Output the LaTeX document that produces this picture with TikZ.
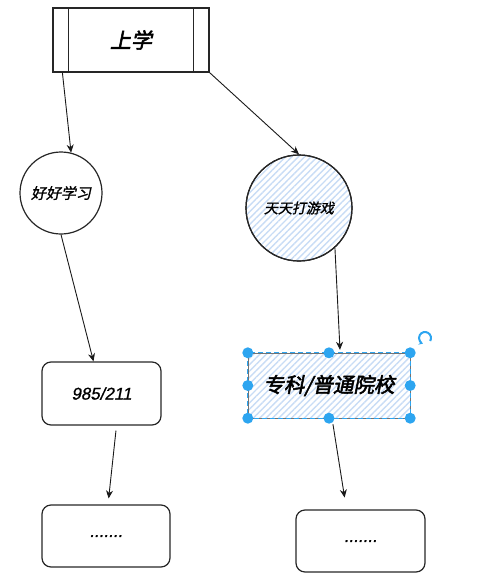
\documentclass[tikz,border=0pt]{standalone}
\usepackage{fontspec}
\setmainfont{Liberation Sans}
\newfontfamily\cjk[FakeSlant=0.2,FakeBold=1.2]{Noto Sans CJK SC}
\newfontfamily\cjkbold[FakeSlant=0.2,FakeBold=2.5]{Noto Sans CJK SC}
\newfontfamily\numfont[FakeSlant=0.2,FakeBold=1]{Liberation Sans}
\usetikzlibrary{arrows.meta,patterns.meta}
\definecolor{selblue}{RGB}{45,165,240}
\definecolor{hatch}{RGB}{200,220,245}
\tikzset{
  sk/.style={draw=black!85,line width=1.2pt},
  roundbox/.style={sk,rounded corners=9pt,inner sep=0pt},
  bubble/.style={sk,circle,inner sep=0pt},
  hatched/.style={pattern={Lines[angle=45,distance=4.5pt,line width=1.4pt]},pattern color=hatch},
  conn/.style={draw=black!90,line width=0.9pt,-{Stealth[length=8pt,width=7pt]}},
  handle/.style={circle,fill=selblue,inner sep=0pt,minimum size=11pt},
}
\begin{document}
\begin{tikzpicture}[x=1pt,y=-1pt]
\useasboundingbox (0,0) rectangle (501,576);
% top box
\node[sk,rectangle,minimum width=156pt,minimum height=64pt,inner sep=0pt] (top) at (131,40) {\fontsize{21}{21}\cjkbold 上学};
\draw[sk] ([xshift=16pt]top.north west) -- ([xshift=16pt]top.south west);
\draw[sk] ([xshift=-16pt]top.north east) -- ([xshift=-16pt]top.south east);
% circles
\node[bubble,minimum size=82pt] (c1) at (61,193) {\fontsize{15}{15}\cjk 好好学习};
\node[bubble,minimum size=106pt,hatched] (c2) at (299,208) {};
\node[bubble,minimum size=106pt] (c2t) at (299,208) {\fontsize{14}{14}\cjk 天天打游戏};
% boxes
\node[roundbox,minimum width=119pt,minimum height=63pt] (b1) at (101.5,393.5) {\fontsize{17}{17}\numfont 985/211};
\node[rectangle,minimum width=162pt,minimum height=65pt,inner sep=0pt,hatched] (b2) at (329,385.5) {};
\node[rectangle,minimum width=162pt,minimum height=65pt,inner sep=0pt,draw=black!55,line width=1pt] (b2t) at (329,385.5) {\fontsize{20.5}{20.5}\cjkbold 专科/普通院校};
\draw[selblue,line width=0.8pt,dash pattern=on 5pt off 3pt] (b2.north west) rectangle (b2.south east);
\node[roundbox,minimum width=128pt,minimum height=62pt] (b3) at (106,536) {\fontsize{17}{17}\numfont .......};
\node[roundbox,minimum width=129pt,minimum height=62pt] (b4) at (360.5,541) {\fontsize{17}{17}\numfont .......};
% handles
\foreach \a in {north west,north,north east,west,east,south west,south,south east}
  \node[handle] at (b2.\a) {};
% rotate icon
\coordinate (rot) at (425,338);
\begin{scope}[shift={(rot)},y=1pt]
\draw[selblue,line width=2pt,-{Stealth[length=4pt,width=5pt]}] (-30:6) arc[start angle=-30,end angle=250,radius=6pt];
\end{scope}
% connectors
\draw[conn] ([xshift=10pt]top.south west) -- (c1.76);
\draw[conn] (top.south east) -- (c2.north);
\draw[conn] (c1.south) -- ([xshift=-8pt]b1.north);
\draw[conn] (c2.-48) -- ([xshift=11pt,yshift=3pt]b2.north);
\draw[conn,shorten <=5pt,shorten >=6pt] ([xshift=15pt]b1.south) -- ([xshift=2pt]b3.north);
\draw[conn,shorten <=6pt,shorten >=12pt] ([xshift=3pt]b2.south) -- ([xshift=-14pt]b4.north);
\end{tikzpicture}
\end{document}
